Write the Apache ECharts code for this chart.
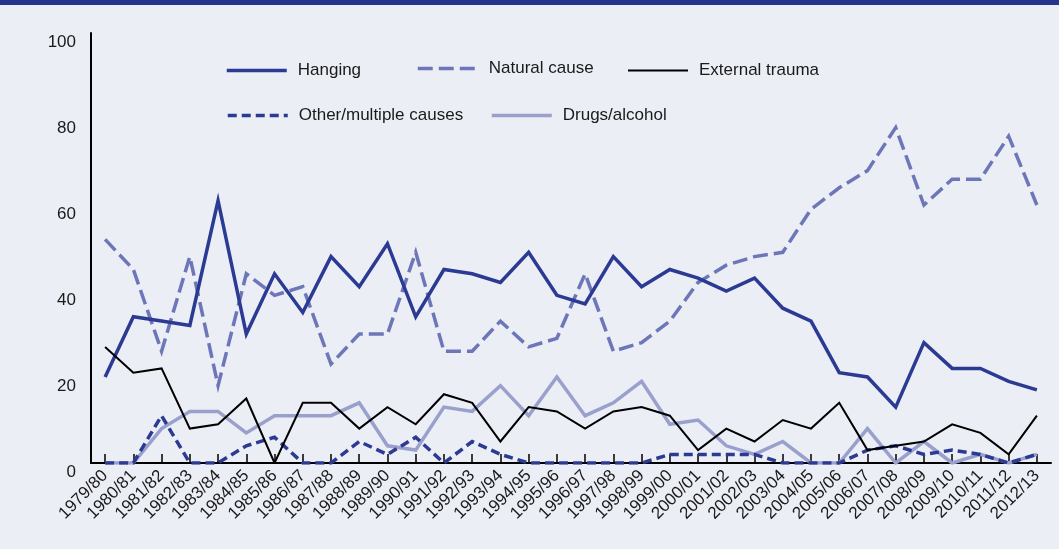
<!DOCTYPE html>
<html>
<head>
<meta charset="utf-8">
<script src="https://cdn.jsdelivr.net/npm/echarts@6/dist/echarts.min.js"></script>
<style>
html,body{margin:0;padding:0;background:#eceef6;}
#topbar{position:absolute;left:0;top:0;width:1059px;height:5px;background:#27348b;}
#chart{position:absolute;left:0;top:0;width:1059px;height:549px;}
</style>
</head>
<body>
<div id="chart"></div>
<div id="topbar"></div>
<script>
const categories = ['1979/80','1980/81','1981/82','1982/83','1983/84','1984/85','1985/86','1986/87','1987/88','1988/89','1989/90','1990/91','1991/92','1992/93','1993/94','1994/95','1995/96','1996/97','1997/98','1998/99','1999/00','2000/01','2001/02','2002/03','2003/04','2004/05','2005/06','2006/07','2007/08','2008/09','2009/10','2010/11','2011/12','2012/13'];
const hanging   = [20,34,33,32,61,30,44,35,48,41,51,34,45,44,42,49,39,37,48,41,45,43,40,43,36,33,21,20,13,28,22,22,19,17];
const natural   = [52,45,26,48,18,44,39,41,23,30,30,49,26,26,33,27,29,44,26,28,33,42,46,48,49,59,64,68,78,60,66,66,76,60];
const external  = [27,21,22,8,9,15,0,14,14,8,13,9,16,14,5,13,12,8,12,13,11,3,8,5,10,8,14,3,4,5,9,7,2,11];
const other     = [0,0,11,0,0,4,6,0,0,5,2,6,0,5,2,0,0,0,0,0,2,2,2,2,0,0,0,3,4,2,3,2,0,2];
const drugs     = [0,0,8,12,12,7,11,11,11,14,4,3,13,12,18,11,20,11,14,19,9,10,4,2,5,0,0,8,0,5,0,2,0,2];
const yTicks    = [0,20,40,60,80,100];

const FONT = '"Liberation Sans", Arial, sans-serif';
const chart = echarts.init(document.getElementById('chart'), null, {renderer:'canvas'});

const seriesDefs = [
  {name:'Hanging', data:hanging, color:'#2b3a92', width:3.5, type:'solid', z:5},
  {name:'Natural cause', data:natural, color:'#6c76b8', width:3.5, type:[15,6], z:4},
  {name:'External trauma', data:external, color:'#000000', width:2, type:'solid', z:6},
  {name:'Other/multiple causes', data:other, color:'#2b3a92', width:3.5, type:[9,5], z:3},
  {name:'Drugs/alcohol', data:drugs, color:'#9aa0cc', width:3.5, type:'solid', z:2}
];

const legendPos = [
  {name:'Hanging', left:225, top:62},
  {name:'Natural cause', left:416, top:60},
  {name:'External trauma', left:627, top:62},
  {name:'Other/multiple causes', left:226, top:107},
  {name:'Drugs/alcohol', left:490, top:107}
];

chart.setOption({
  backgroundColor:'#eceef6',
  animation:false,
  grid:{left:91, right:8, top:33, bottom:86, containLabel:false},
  legend: legendPos.map(l => {
    const s = seriesDefs.find(d => d.name === l.name);
    return {
      data:[l.name], left:l.left, top:l.top, padding:0,
      itemWidth:60, itemHeight:18, itemGap:0,
      itemStyle:{opacity:0},
      lineStyle:{width:s.width, type:s.type, color:s.color, cap:'butt'},
      textStyle:{fontFamily:FONT, fontSize:17, color:'#1a1a1a', padding:[0,0,0,6]}
    };
  }),
  xAxis:{
    type:'category', data:categories, boundaryGap:true,
    axisLine:{lineStyle:{color:'#000', width:2}},
    axisTick:{show:true, inside:true, alignWithLabel:true, length:9, lineStyle:{color:'#000', width:1.5}},
    axisLabel:{rotate:45, interval:0, margin:10, fontFamily:FONT, fontSize:17, color:'#1a1a1a'},
    splitLine:{show:false}
  },
  yAxis:{
    type:'value', min:0, max:100, interval:20,
    axisLine:{show:true, lineStyle:{color:'#000', width:2}},
    axisTick:{show:false},
    axisLabel:{margin:15, fontFamily:FONT, fontSize:17, color:'#1a1a1a', verticalAlign:'top', padding:[1,0,0,0],
      formatter: v => yTicks.includes(v) ? String(v) : ''},
    splitLine:{show:false}
  },
  series: seriesDefs.map(s => ({
    name:s.name, type:'line', data:s.data, symbol:'none', z:s.z,
    color:s.color,
    lineStyle:{color:s.color, width:s.width, type:s.type, cap:'butt', join:'miter'}
  }))
});
</script>
</body>
</html>
